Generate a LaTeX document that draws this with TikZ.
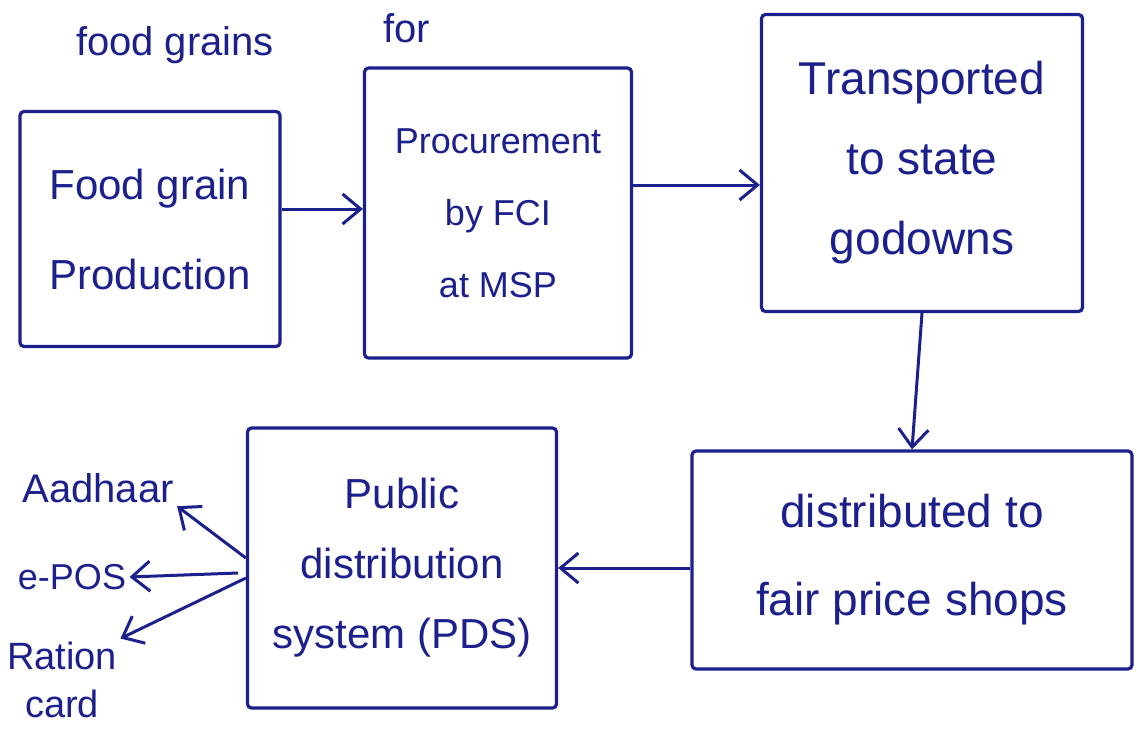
\documentclass[tikz,border=0pt]{standalone}
\usepackage{fontspec}
\setmainfont{Liberation Sans}
\usetikzlibrary{arrows.meta}
\definecolor{ink}{RGB}{28,32,140}
\begin{document}
\begin{tikzpicture}[x=1pt,y=-1pt,
  box/.style={draw=ink,line width=3.2pt,rounded corners=4pt,minimum width=#1},
  lbl/.style={text=ink,align=center,font=\fontsize{36}{60}\selectfont},
  conn/.style={draw=ink,line width=3pt,-{Straight Barb[length=18pt,width=30pt,line width=3pt]}}]
\useasboundingbox[fill=white] (0,0) rectangle (1137,731);
% top text (cut off)
\node[lbl,anchor=base,font=\fontsize{40}{50}\selectfont] (topa) at (175,55) {food grains};
\node[lbl,anchor=base west,font=\fontsize{40}{50}\selectfont] (topb) at (380,42) {for};
% boxes
\node[box=260pt,minimum height=235pt,lbl,font=\fontsize{42}{90}\selectfont] (prod) at (150,229) {Food grain\\Production};
\node[box=267pt,minimum height=290pt,lbl,font=\fontsize{36}{72}\selectfont] (proc) at (498,213) {Procurement\\by FCI\\at MSP};
\node[box=321pt,minimum height=297pt,lbl,font=\fontsize{46}{80}\selectfont] (trans) at (922,163) {Transported\\to state\\godowns};
\node[box=440pt,minimum height=218pt,lbl,font=\fontsize{46}{88}\selectfont] (dist) at (912,560) {distributed to\\fair price shops};
\node[box=309pt,minimum height=280pt,lbl,font=\fontsize{42}{70}\selectfont] (pds) at (402,568) {Public\\distribution\\system (PDS)};
% side labels
\node[lbl,font=\fontsize{40}{50}\selectfont] (aad) at (98,488) {Aadhaar};
\node[lbl] (epos) at (72,577) {e-POS};
\node[lbl,font=\fontsize{38}{48}\selectfont] (ration) at (62,680) {Ration\\card};
% connectors
\draw[conn] (prod.east) ++(0,-20) coordinate (pr) -- (pr -| proc.west);
\draw[conn] (proc.east) ++(0,-28) coordinate (pe) -- (pe -| trans.west);
\draw[conn] (trans.south) -- (dist.north);
\draw[conn] (dist.west) ++(0,8) coordinate (dw) -- (dw -| pds.east);
\draw[conn] (pds.west) ++(0,-10) coordinate (p1) -- (aad.south east);
\draw[conn] (pds.west) ++(-8,5) coordinate (p2) -- (epos.east);
\draw[conn] (pds.west) ++(0,10) coordinate (p3) -- (ration.north east);
\end{tikzpicture}
\end{document}
